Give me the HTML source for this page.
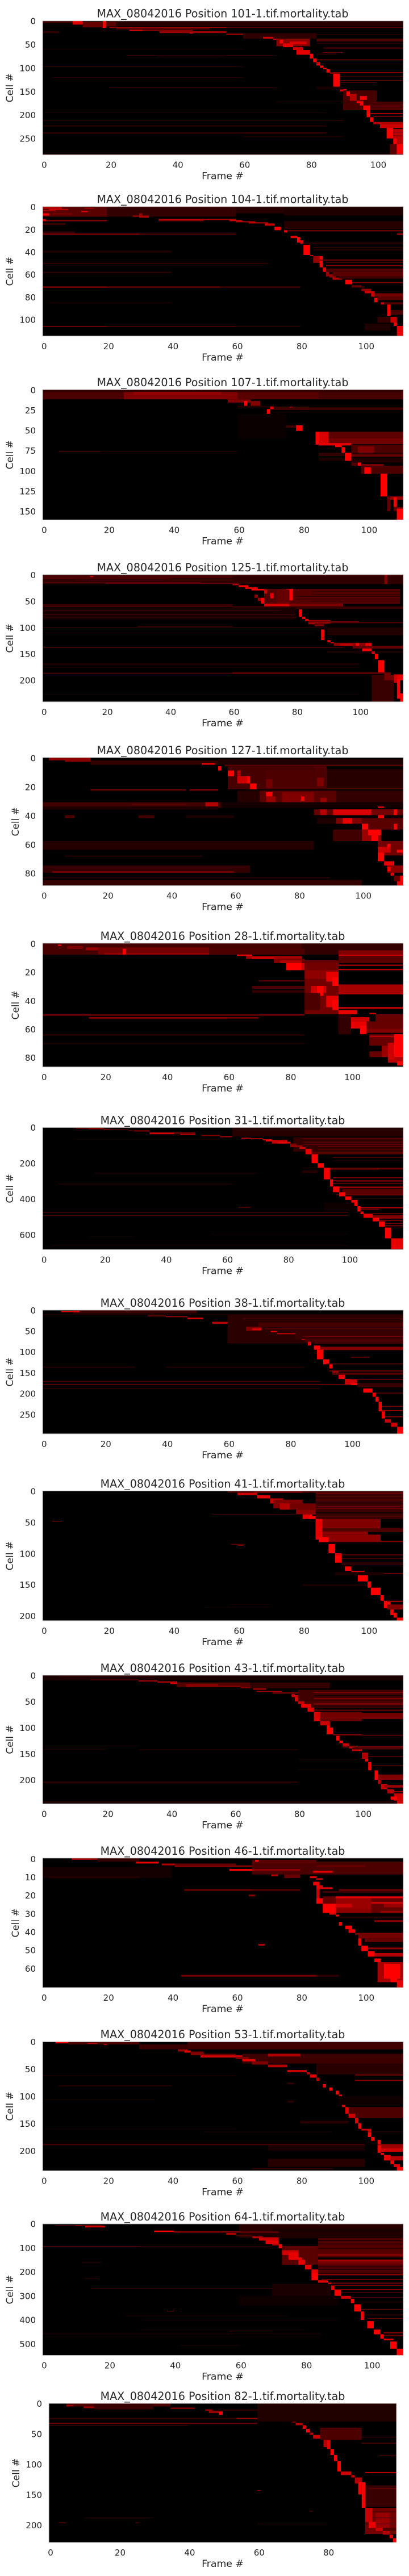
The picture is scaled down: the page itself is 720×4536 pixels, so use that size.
<!DOCTYPE html>
<html lang="en">
<head>
<meta charset="utf-8">
<title>MAX_08042016 mortality heatmaps</title>
<style>
html,body{margin:0;padding:0;background:#fff}
svg{display:block}
text{font-family:"DejaVu Sans","Liberation Sans",sans-serif;fill:#262626}
</style>
</head>
<body>
<svg id="figure" xmlns="http://www.w3.org/2000/svg" width="720" height="4536" viewBox="0 0 720 4536"></svg>
<script>
const panelTitles = ["MAX_08042016 Position 101-1.tif.mortality.tab","MAX_08042016 Position 104-1.tif.mortality.tab","MAX_08042016 Position 107-1.tif.mortality.tab","MAX_08042016 Position 125-1.tif.mortality.tab","MAX_08042016 Position 127-1.tif.mortality.tab","MAX_08042016 Position 28-1.tif.mortality.tab","MAX_08042016 Position 31-1.tif.mortality.tab","MAX_08042016 Position 38-1.tif.mortality.tab","MAX_08042016 Position 41-1.tif.mortality.tab","MAX_08042016 Position 43-1.tif.mortality.tab","MAX_08042016 Position 46-1.tif.mortality.tab","MAX_08042016 Position 53-1.tif.mortality.tab","MAX_08042016 Position 64-1.tif.mortality.tab","MAX_08042016 Position 82-1.tif.mortality.tab"];
const frameCounts = [108,112,111,114,113,117,118,117,111,113,112,112,110,100];
const cellCounts = [285,115,161,241,89,87,683,297,208,246,71,237,548,229];
const frameTicks = [[0,20,40,60,80,100],[0,20,40,60,80,100],[0,20,40,60,80,100],[0,20,40,60,80,100],[0,20,40,60,80,100],[0,20,40,60,80,100],[0,20,40,60,80,100],[0,20,40,60,80,100],[0,20,40,60,80,100],[0,20,40,60,80,100],[0,20,40,60,80,100],[0,20,40,60,80,100],[0,20,40,60,80,100],[0,20,40,60,80]];
const cellTicks = [[0,50,100,150,200,250],[0,20,40,60,80,100],[0,25,50,75,100,125,150],[0,50,100,150,200],[0,20,40,60,80],[0,20,40,60,80],[0,200,400,600],[0,50,100,150,200,250],[0,50,100,150,200],[0,50,100,150,200],[0,10,20,30,40,50,60],[0,50,100,150,200],[0,100,200,300,400,500],[0,50,100,150,200]];

/* Each run: [first cell, last cell, first frame, last frame, intensity] */
const runs101 = [[0,12,20,108,.15],[0,5,0,9,.25],[0,8,9,12,.9],[2,14,12,18,.4],[0,15,18,19,1],[2,12,19,22,.35],[14,15,20,55,.9],[14,15,55,108,.5],[16,18,22,50,.45],[19,21,26,30,1],[19,21,30,45,.6],[22,26,35,55,.6],[25,27,44,45,.9],[22,26,0,5,.2],[27,30,55,62,.6],[30,32,60,65,.8],[32,34,62,65,1],[26,38,60,82,.18],[34,38,66,69,.8],[38,40,69,70,.9],[38,54,70,80,.55],[40,48,71,72,1],[44,50,74,79,.85],[48,56,72,75,.9],[56,62,75,78,.8],[62,72,76,80,.9],[70,80,80,81,1],[80,88,81,82,1],[82,84,82,108,.45],[88,95,82,83,1],[95,100,83,84,1],[100,103,84,85,1],[103,110,85,86,1],[110,112,86,87,1],[109,111,87,108,.55],[112,140,87,89,1],[118,119,89,108,.45],[126,127,89,108,.55],[131,132,89,100,.4],[140,145,88,89,1],[145,150,89,91,.9],[148,190,90,100,.28],[150,160,91,92,1],[155,170,92,94,.7],[160,168,95,97,1],[170,175,94,95,1],[170,180,95,96,1],[180,190,96,98,1],[172,190,98,108,.32],[176,177,98,108,.1],[183,184,98,108,.1],[190,205,97,98,1],[196,198,98,108,.7],[205,215,98,99,1],[202,204,99,108,.55],[215,220,99,108,.7],[220,228,101,108,.8],[228,250,103,105,1],[230,262,105,108,.72],[236,237,105,108,.2],[244,245,105,108,.25],[250,262,105,106,1],[262,285,106,108,1],[262,285,104,106,.35],[211,212,0,90,.35],[237,240,0,85,.2],[222,225,0,85,.14],[142,143,20,70,.3],[120,121,3,60,.18],[283,284,0,108,.25],[73,74,25,70,.2],[60,61,0,60,.15],[97,98,0,60,.18],[38,44,82,108,.3],[56,60,84,108,.2],[67,68,84,90,.5],[76,77,34,55,.22],[172,173,70,100,.25],[195,196,0,85,.12],[245,247,60,90,.12],[140,146,82,90,.1],[91,92,82,108,.15],[48,49,82,108,.3],[28,30,82,108,.15],[70,71,82,88,.4]];
const runs104 = [[0,9,0,20,.35],[0,9,20,60,.2],[0,6,60,75,.15],[0,2,0,6,.7],[3,4,0,4,.7],[6,8,0,2,1],[2,3,2,8,.8],[4,5,12,14,.9],[6,7,3,9,.5],[1,2,13,16,.6],[6,10,30,31,.6],[8,9,28,33,.7],[9,10,30,33,.6],[11,12,36,60,.7],[12,13,0,20,.6],[12,13,36,50,.5],[11,13,0,1,.9],[15,16,0,7,.4],[13,20,75,112,.15],[0,8,75,112,.12],[12,13,58,62,.8],[13,14,60,66,.7],[14,15,64,70,.8],[15,17,69,72,.8],[18,21,72,74,1],[21,23,75,76,1],[26,28,77,79,.9],[27,32,79,80,1],[30,33,80,81,.9],[34,43,81,83,1],[43,44,83,84,.8],[44,50,84,86,.6],[44,54,86,87,1],[54,58,87,88,.9],[58,62,88,89,.6],[60,63,89,91,.6],[63,65,90,93,.7],[65,69,94,96,1],[70,72,96,99,.5],[73,75,99,102,.6],[75,77,100,103,.8],[77,80,102,105,.8],[81,85,103,104,1],[85,87,105,107,.8],[87,92,107,108,1],[92,97,107,108,1],[98,103,108,110,.8],[103,106,109,110,1],[106,115,110,112,.9],[21,22,76,112,.5],[32,33,81,112,.2],[36,37,84,112,.2],[38,39,84,112,.15],[47,48,86,112,.45],[49,50,88,112,.3],[52,53,88,112,.5],[55,58,88,112,.3],[58,62,90,112,.35],[62,64,92,112,.25],[67,68,96,112,.5],[71,72,96,100,.3],[77,80,103,112,.45],[80,83,104,112,.35],[85,87,106,112,.3],[92,96,108,112,.3],[98,103,104,108,.2],[104,110,100,108,.12],[24,25,0,30,.6],[24,25,30,60,.35],[71,72,0,20,.65],[71,72,20,55,.55],[71,72,55,80,.35],[106,107,0,20,.4],[106,107,20,60,.25],[106,107,60,80,.15],[50,51,0,70,.2],[58,59,0,40,.2],[39,41,0,40,.12],[85,86,2,40,.1],[24,25,110,112,.8],[22,24,0,10,.2]];
const runs107 = [[0,3,0,111,.2],[3,12,0,25,.3],[3,12,25,60,.5],[3,12,60,85,.35],[3,12,85,111,.28],[3,6,28,55,.6],[9,10,28,30,.5],[12,16,57,64,.5],[14,20,64,67,.5],[14,20,62,63,1],[20,22,60,72,.15],[21,25,70,82,.2],[21,24,76,77,.8],[21,24,70,71,.9],[24,30,69,70,1],[24,25,70,111,.3],[22,24,71,111,.25],[31,34,69,73,.2],[30,34,72,73,1],[35,43,73,74,1],[41,43,74,75,1],[36,38,74,75,.9],[44,47,74,78,.25],[44,51,78,80,1],[52,60,87,111,.36],[60,66,87,111,.45],[66,67,87,111,.6],[52,68,84,85,1],[52,68,85,88,.85],[66,69,85,95,.9],[68,71,90,92,1],[71,78,92,93,1],[78,88,93,95,1],[68,78,95,111,.3],[70,78,97,102,.5],[78,82,85,93,.2],[78,82,95,111,.18],[80,83,95,111,.4],[84,88,85,93,.12],[84,88,95,111,.12],[88,90,95,111,.15],[90,94,95,97,.3],[90,94,97,98,1],[92,95,98,105,.5],[94,104,100,111,.3],[94,104,98,100,.3],[96,104,99,101,1],[95,104,101,110,.3],[104,132,104,106,1],[132,136,106,111,.6],[132,150,106,107,.4],[133,145,108,109,1],[145,150,108,111,.4],[147,161,109,111,1],[76,77,5,18,.3],[76,77,18,60,.15],[30,60,60,75,.04]];
const runs125 = [[0,18,0,60,.18],[0,18,60,114,.18],[1,2,0,114,.3],[4,5,0,60,.55],[7,8,0,40,.4],[10,11,10,60,.35],[14,15,0,50,.4],[16,17,20,62,.5],[3,5,15,16,1],[18,20,60,62,.8],[20,24,62,65,.9],[24,27,64,68,.9],[27,30,66,70,1],[27,55,70,113,.33],[27,49,77,79,1],[28,36,70,71,.8],[35,45,72,73,.9],[28,55,74,78,.4],[31,32,85,113,.15],[37,38,85,113,.15],[41,42,80,113,.15],[46,47,80,113,.2],[50,51,85,113,.2],[38,44,67,68,.6],[44,50,68,70,.6],[44,55,69,70,1],[55,60,70,78,.85],[55,60,78,95,.5],[60,62,60,100,.3],[56,60,0,60,.22],[60,61,0,60,.4],[60,65,78,114,.22],[62,85,0,80,.1],[68,69,0,75,.3],[75,76,0,80,.3],[66,80,81,82,1],[80,84,82,83,1],[84,88,83,84,.9],[88,94,84,86,.8],[94,98,86,89,.5],[86,93,84,91,.6],[88,90,84,100,.4],[90,92,91,114,.35],[104,124,88,89,1],[124,128,90,91,.9],[128,130,91,92,.9],[129,135,92,104,.55],[131,135,94,98,.75],[130,135,99,100,1],[130,137,102,104,.9],[137,145,101,104,1],[145,150,104,105,1],[150,160,105,106,1],[162,186,106,108,1],[186,190,108,110,.5],[189,200,111,114,.9],[190,205,111,112,.8],[198,216,112,113,1],[216,235,112,113,1],[225,241,113,114,1],[135,140,98,114,.4],[146,147,90,114,.3],[190,241,104,111,.22],[190,200,108,111,.45],[186,187,0,100,.55],[185,188,60,110,.4],[138,139,0,95,.4],[100,101,0,90,.25],[97,99,30,60,.2],[80,81,0,80,.3],[168,172,0,100,.1],[175,176,0,100,.15],[100,115,90,114,.13],[0,18,108,109,.5],[110,111,0,86,.1],[226,227,0,100,.1]];
const runs127 = [[0,2,2,15,.55],[2,3,7,30,.5],[2,5,15,55,.2],[4,5,50,54,.9],[1,5,55,113,.12],[5,6,57,113,.35],[6,22,58,85,.28],[9,22,70,85,.3],[15,22,70,72,.45],[6,22,85,89,.3],[14,20,86,88,.5],[8,22,89,113,.15],[6,9,55,56,1],[9,13,58,60,1],[9,13,61,62,.7],[13,18,61,64,.8],[13,18,64,65,1],[18,22,65,67,1],[22,23,15,45,.4],[22,23,46,55,.5],[21,22,70,113,.3],[23,31,61,68,.15],[23,31,68,92,.35],[24,31,75,85,.5],[24,27,70,72,1],[27,31,70,73,.6],[27,30,81,82,1],[28,31,87,89,.6],[23,31,92,113,.2],[31,35,0,56,.25],[31,34,51,55,.7],[32,33,28,45,.35],[34,36,0,55,.12],[31,35,56,113,.08],[36,40,85,113,.4],[36,40,87,89,.7],[36,40,91,103,.85],[36,40,103,110,.45],[36,40,110,111,1],[34,35,105,107,.9],[40,42,105,107,1],[40,42,7,10,.3],[40,42,30,35,.25],[40,42,45,60,.1],[42,46,86,92,.12],[42,46,92,100,.5],[42,46,94,97,.9],[42,50,100,113,.35],[46,50,100,102,1],[46,50,110,111,1],[50,58,91,100,.25],[50,58,100,106,.6],[50,54,102,106,1],[54,58,103,105,1],[58,68,105,113,.45],[60,66,108,109,1],[62,66,105,109,.8],[64,66,111,113,1],[66,72,105,107,1],[72,75,107,110,.9],[75,80,108,113,.55],[76,79,108,109,1],[80,82,109,110,.9],[82,86,110,112,.4],[82,86,112,113,1],[86,89,111,113,.9],[58,64,0,85,.14],[68,69,7,50,.12],[75,80,0,65,.2],[79,80,3,60,.5],[83,84,0,90,.15],[85,89,0,100,.2]];
const runs28 = [[0,8,0,84,.28],[3,8,18,54,.45],[7,8,20,54,.6],[4,8,26,27,1],[1,2,5,6,1],[2,4,8,13,.5],[3,5,14,18,.6],[0,8,84,96,.2],[4,8,54,85,.3],[8,9,63,68,.9],[9,11,66,84,.65],[10,11,68,75,.9],[11,14,75,85,.5],[12,14,77,84,.7],[14,19,79,84,1],[14,19,84,85,.8],[12,14,84,96,.4],[0,5,96,117,.2],[5,8,96,117,.5],[8,9,96,117,.8],[9,14,96,117,.35],[15,16,96,117,.6],[18,19,96,117,.7],[14,50,85,96,.45],[19,25,85,96,.55],[20,27,92,96,.9],[24,30,94,96,1],[30,35,87,92,.8],[30,37,89,91,1],[37,45,92,96,.9],[40,47,94,96,1],[35,47,85,90,.3],[30,32,68,85,.3],[33,35,68,85,.2],[26,27,70,85,.3],[29,35,96,117,.65],[35,36,96,117,.7],[45,46,96,117,.9],[47,50,96,102,.9],[49,50,106,108,.8],[50,55,108,117,.4],[52,55,98,106,.8],[55,60,100,105,.9],[58,64,103,105,1],[55,60,105,117,.4],[60,63,105,117,.5],[50,64,96,100,.2],[64,72,106,117,.4],[65,66,106,117,.7],[64,80,114,117,1],[72,80,110,114,.6],[76,80,106,110,.4],[80,84,112,117,.7],[83,86,115,117,1],[70,82,112,114,.8],[50,51,0,85,.45],[52,53,15,60,.6],[52,53,60,70,.5],[64,65,0,85,.15],[70,71,0,85,.1]];
const runs31 = [[0,5,10,20,.2],[3,7,11,20,.6],[7,11,15,22,.4],[12,15,20,28,.6],[15,22,28,35,.25],[18,22,30,35,.8],[0,50,62,118,.15],[25,38,43,50,.35],[28,38,35,43,.8],[35,42,45,50,.7],[42,48,52,58,.5],[48,55,58,62,.6],[58,62,65,68,1],[60,66,68,72,.7],[66,72,72,75,.9],[72,78,73,75,1],[70,90,75,80,.8],[80,90,77,81,.9],[55,135,82,118,.2],[90,105,81,83,.5],[100,110,81,85,.6],[60,64,85,118,.4],[80,85,85,118,.35],[95,98,85,118,.45],[105,108,90,118,.5],[120,125,90,118,.35],[135,150,88,118,.35],[165,170,95,118,.35],[185,188,95,118,.2],[110,120,84,86,.8],[120,150,86,88,.9],[150,200,88,90,1],[200,225,90,92,1],[225,235,94,118,.4],[232,234,94,110,.8],[280,283,95,118,.8],[295,297,95,118,.6],[300,302,96,118,.5],[310,313,95,118,.7],[330,340,96,118,.55],[345,380,98,118,.35],[375,378,96,118,.5],[395,397,99,118,.3],[445,452,103,118,.7],[455,462,104,110,.4],[480,485,105,118,.5],[490,510,108,118,.5],[520,523,110,118,.7],[535,537,110,118,.7],[545,548,112,118,.7],[555,558,112,118,.6],[620,640,114,118,.7],[640,660,115,118,.6],[225,290,92,94,.95],[290,330,94,95,1],[330,362,95,97,1],[362,385,97,99,1],[385,405,99,101,1],[405,440,101,103,1],[440,470,103,104,1],[470,485,104,105,1],[485,505,105,108,.9],[505,525,108,110,1],[525,555,110,112,1],[560,620,112,114,1],[620,680,114,118,.9],[476,478,0,100,.45],[491,494,0,100,.4],[315,317,5,62,.25],[255,257,17,70,.2],[445,447,64,68,.8],[65,68,10,60,.1],[225,228,85,92,.2],[240,255,85,90,.15],[610,612,15,30,.12],[655,660,3,100,.1],[595,597,55,100,.1],[420,470,92,102,.06]];
const runs38 = [[0,8,10,50,.22],[2,5,6,12,.9],[10,12,0,60,.15],[13,15,34,40,.6],[15,17,40,47,.7],[18,22,47,52,.8],[28,33,55,62,.7],[33,38,62,64,.8],[38,42,64,66,.8],[10,80,60,117,.17],[40,50,66,71,.5],[44,48,68,71,.85],[50,53,74,76,.9],[55,58,76,82,.7],[60,65,82,84,.8],[65,72,84,86,.9],[72,85,86,87,.9],[85,95,88,90,1],[88,96,90,117,.5],[95,118,89,91,1],[118,130,91,93,1],[130,140,93,94,1],[145,155,94,96,.6],[155,165,96,98,.9],[165,180,98,102,.8],[175,180,100,103,1],[188,198,104,107,1],[198,208,107,108,.9],[208,220,108,109,1],[220,243,109,110,1],[243,260,110,111,1],[262,270,111,113,.8],[270,280,113,115,.8],[280,297,115,117,1],[70,76,85,117,.3],[30,40,70,117,.28],[50,70,82,117,.22],[178,180,0,100,.5],[170,172,0,90,.3],[136,138,0,30,.2],[136,138,40,85,.2],[187,189,0,90,.2],[150,155,94,117,.35],[112,114,100,106,.5],[175,185,102,117,.22],[230,232,110,117,.5],[240,242,110,117,.7],[255,257,111,117,.6],[145,147,93,117,.6],[128,130,92,117,.4],[20,22,65,117,.35],[44,46,72,117,.4],[62,64,85,117,.45],[78,80,88,117,.4],[165,167,100,117,.5],[198,200,108,117,.4]];
const runs41 = [[0,3,57,111,.3],[1,3,65,80,.5],[3,7,60,66,.8],[7,12,66,70,.9],[12,20,70,74,.8],[14,28,71,80,.5],[20,30,73,77,.7],[20,30,76,84,.45],[30,38,78,84,.55],[38,45,80,83,.9],[40,45,82,84,1],[0,45,84,111,.22],[3,4,84,111,.6],[8,9,84,111,.4],[14,15,84,111,.5],[24,25,84,111,.5],[28,29,84,111,.5],[40,41,84,111,.4],[19,20,84,111,.08],[34,36,84,111,.08],[45,60,85,104,.5],[60,66,85,111,.3],[65,70,85,100,.55],[70,80,85,104,.55],[45,60,84,85,1],[45,78,84,86,.9],[74,82,85,88,1],[60,66,104,111,.3],[80,82,88,111,.5],[85,100,88,90,1],[100,115,90,92,1],[121,128,93,95,1],[128,133,95,99,.8],[132,145,97,100,1],[145,155,100,101,1],[155,167,101,104,1],[167,176,104,105,1],[176,188,105,107,1],[190,199,107,108,1],[195,203,108,109,1],[203,208,109,111,1],[102,103,90,111,.6],[108,109,92,111,.3],[115,116,92,111,.5],[118,119,92,111,.4],[132,133,95,111,.7],[176,178,106,111,.6],[182,190,106,111,.5],[37,38,52,80,.25],[48,49,3,6,.6],[85,86,58,62,.5],[87,88,60,62,.5],[181,182,58,70,.15],[186,187,50,70,.1],[150,152,80,100,.15],[130,135,90,105,.1]];
const runs43 = [[0,10,0,113,.1],[2,3,5,35,.3],[8,10,15,30,.3],[10,12,30,36,.7],[12,14,36,42,.9],[14,17,40,47,.8],[14,23,42,65,.33],[17,23,45,55,.55],[20,23,47,62,.5],[22,25,62,70,.5],[14,25,65,90,.2],[25,28,66,70,.6],[30,32,67,75,.6],[33,35,72,80,.6],[36,41,78,79,.7],[38,42,78,80,.8],[42,50,79,80,.9],[48,55,80,82,.8],[28,50,80,113,.25],[50,62,82,113,.3],[32,34,85,113,.5],[44,46,85,113,.55],[54,56,85,113,.55],[66,68,85,113,.5],[38,40,85,113,.08],[58,60,85,113,.1],[55,62,81,84,.9],[62,70,83,85,.9],[70,88,85,100,.4],[72,84,85,113,.45],[70,88,85,87,.85],[88,96,87,90,.8],[96,113,89,90,1],[100,113,89,91,1],[113,115,91,100,.6],[114,116,100,113,.35],[116,125,92,93,1],[125,130,93,94,1],[130,135,94,96,.8],[135,140,96,98,.9],[140,145,97,100,.8],[148,160,100,102,.7],[160,165,101,102,1],[166,182,102,103,1],[182,200,104,105,1],[193,208,105,106,.7],[208,218,106,108,.8],[218,226,108,110,.7],[226,240,110,113,.8],[232,238,109,111,1],[240,246,111,113,1],[204,205,0,80,.4],[242,243,0,113,.4],[136,138,94,113,.5],[138,142,97,113,.3],[155,156,100,113,.6],[172,173,103,113,.4],[190,200,105,113,.5],[210,215,107,113,.6],[222,224,110,113,.7],[141,142,0,20,.2],[135,136,0,30,.1],[142,143,30,80,.2],[160,161,80,100,.15],[180,181,80,100,.12]];
const runs46 = [[0,1,9,17,.6],[0,2,17,30,.2],[2,3,29,36,.9],[3,4,37,41,.7],[4,5,41,75,.5],[3,4,41,60,.4],[2,9,65,112,.3],[1,3,65,85,.35],[1,2,66,67,1],[2,3,85,112,.3],[4,5,85,100,.4],[6,7,58,65,1],[6,7,65,80,.55],[6,8,80,112,.3],[7,8,84,90,.9],[9,10,71,73,.7],[9,11,75,80,.4],[10,11,83,85,.9],[11,12,85,87,.7],[5,11,0,40,.08],[10,11,2,30,.15],[13,15,84,86,.9],[15,17,85,87,.9],[17,22,85,86,.8],[16,17,86,90,.8],[18,19,87,112,.25],[17,18,92,112,.4],[21,30,87,112,.4],[22,25,85,87,1],[25,30,87,91,1],[22,30,91,102,.6],[25,27,91,96,.8],[28,30,91,102,.55],[21,22,91,112,.9],[24,25,102,112,.8],[25,27,106,112,.6],[29,30,105,112,.6],[30,31,89,91,.9],[31,32,91,92,1],[32,33,92,112,.15],[34,35,103,112,.5],[35,37,92,93,1],[37,39,94,96,1],[39,41,95,97,.9],[41,42,97,112,.5],[42,44,98,112,.45],[44,48,98,99,1],[44,46,100,112,.4],[48,51,99,101,1],[49,50,101,112,.55],[52,54,101,112,.7],[51,54,101,103,1],[55,57,103,105,1],[57,68,104,112,.65],[58,66,106,111,1],[66,68,108,110,1],[67,71,110,112,.9],[64,65,43,85,.45],[64,65,85,92,.2],[20,21,64,66,.5],[47,48,67,69,.7],[17,18,44,65,.4],[17,18,65,80,.3]];
const runs53 = [[0,3,4,8,1],[0,5,8,30,.3],[2,4,14,17,.7],[4,6,19,20,.7],[5,14,30,45,.22],[0,14,45,112,.25],[14,18,42,45,.6],[16,20,44,46,.9],[18,25,46,50,.5],[22,29,50,60,.4],[25,29,49,62,.8],[22,40,62,112,.24],[28,32,60,64,.5],[32,36,62,66,.9],[36,42,65,70,.5],[42,47,70,76,.7],[22,27,70,80,.7],[40,60,85,112,.16],[52,56,76,82,.8],[56,60,82,83,.7],[60,66,83,85,.9],[66,72,85,86,.7],[78,84,87,88,.9],[84,90,89,90,1],[90,97,91,92,1],[97,112,92,93,.9],[116,120,93,94,.9],[120,140,95,112,.3],[120,132,94,95,.9],[132,140,95,97,.8],[140,150,97,98,.9],[150,160,98,99,1],[160,163,99,102,.8],[163,175,101,102,1],[175,182,102,103,1],[180,190,104,105,1],[188,195,104,112,.6],[195,202,105,112,.8],[190,204,104,105,1],[204,208,105,106,1],[210,218,107,112,.7],[208,218,106,108,.9],[218,225,108,109,1],[225,230,109,111,.9],[230,237,110,112,1],[60,62,97,112,.5],[70,72,97,112,.5],[100,115,92,112,.06],[165,166,100,112,.2],[188,190,0,100,.3],[62,63,0,60,.2],[105,106,0,35,.1],[108,112,76,78,.15],[75,78,76,78,.2],[190,200,70,100,.1],[215,230,70,100,.15],[232,234,65,90,.2],[160,161,0,60,.1],[165,166,50,90,.12],[145,150,80,95,.15],[80,82,5,40,.15]];
const runs64 = [[5,8,4,12,.3],[6,10,10,18,.55],[8,15,13,19,.8],[0,50,60,110,.16],[20,35,70,110,.1],[40,60,60,110,.12],[28,34,34,40,1],[30,34,40,60,.6],[32,37,40,72,.45],[38,46,56,59,.7],[46,52,59,64,.3],[52,60,64,67,.7],[56,70,66,72,.8],[70,84,68,72,.9],[84,90,70,72,.7],[85,102,72,73,1],[60,150,84,110,.33],[68,72,84,110,.1],[82,86,84,110,.12],[100,105,84,110,.18],[148,170,84,110,.45],[170,215,84,110,.3],[178,180,84,110,.1],[190,192,84,110,.1],[205,208,84,110,.08],[125,135,84,110,.5],[140,148,84,110,0],[152,155,84,110,.7],[208,213,84,110,.55],[92,170,73,84,.35],[110,130,73,78,.8],[120,150,75,78,.9],[140,150,76,79,.9],[150,170,78,80,.9],[170,190,80,82,.9],[190,210,82,84,.9],[205,235,82,84,1],[235,245,84,87,.9],[245,258,87,88,1],[258,275,88,89,.9],[230,233,85,110,.6],[245,249,88,110,.55],[255,258,88,110,.45],[272,275,89,110,.5],[285,287,91,110,.5],[305,307,94,110,.4],[325,327,95,110,.4],[355,357,97,110,.5],[378,380,98,110,.5],[393,395,99,110,.5],[450,456,104,110,.5],[462,468,104,110,.4],[275,300,89,91,1],[300,312,91,94,.8],[312,330,94,95,1],[335,365,95,97,1],[365,400,97,98,1],[405,435,99,101,1],[440,460,101,103,1],[460,478,103,104,1],[478,485,104,107,.9],[490,520,106,108,1],[520,548,108,110,1],[93,95,0,30,.45],[93,95,30,70,.2],[268,270,15,85,.2],[445,447,57,70,.35],[440,442,30,80,.1],[362,364,38,40,.7],[225,227,13,17,.3],[160,162,12,18,.25],[505,507,42,60,.15],[455,460,0,85,.08],[470,472,0,85,.1],[400,402,30,90,.1],[380,385,25,75,.06],[300,340,60,90,.06],[250,300,70,88,.1]];
const runs82 = [[0,5,5,35,.3],[3,5,5,7,.7],[5,8,10,13,.6],[0,10,13,30,.22],[7,9,35,42,.6],[10,12,45,47,.7],[12,16,46,50,.6],[14,19,49,50,1],[24,26,54,66,.6],[26,28,60,68,.5],[18,21,68,72,.9],[25,30,67,70,.4],[28,32,70,71,.5],[32,36,71,73,.7],[36,42,73,74,.9],[42,48,74,75,1],[48,52,75,76,.7],[52,58,76,79,.8],[58,62,79,80,.9],[60,75,80,81,.9],[60,72,79,80,.7],[75,85,81,82,1],[85,95,82,83,1],[95,112,83,84,1],[112,118,84,87,.8],[118,122,87,88,.8],[122,132,88,90,.7],[130,150,89,90,1],[130,172,90,91,1],[172,215,91,100,.45],[180,205,94,98,.6],[178,179,91,100,.2],[188,189,91,100,.25],[198,199,91,100,.25],[172,195,91,93,.8],[195,205,92,94,.9],[205,210,94,96,.8],[208,216,96,98,.7],[216,222,98,99,.9],[222,229,99,100,1],[32,34,0,60,.4],[36,37,0,40,.3],[24,26,0,54,.2],[10,12,50,100,.2],[0,30,60,100,.13],[40,60,78,90,.3],[113,115,91,100,.7],[205,210,96,100,.3],[135,170,91,100,.22],[140,141,92,100,.5],[65,66,90,100,.5],[55,56,90,100,.3],[198,199,60,80,.2],[196,197,3,5,.5],[196,197,25,26,.5],[143,144,60,61,.5],[177,178,75,76,.4],[188,189,10,30,.15],[85,86,95,100,.3]];
const panelRuns = [runs101,runs104,runs107,runs125,runs127,runs28,runs31,runs38,runs41,runs43,runs46,runs53,runs64,runs82];

/* Page layout, separate from the data */
const axesTops = [36.7,363.7,686.1,1011.8,1333.9,1660.8,1985.3,2306.9,2625.3,2949.8,3271.8,3595.2,3915.9,4232];
const axesBottoms = [272.7,591.8,915.5,1235.9,1559.6,1878.8,2200.4,2524.9,2853.9,3176.3,3500,3822.5,4147.6,4477];
const axesLefts = [75,75,75,75,75,75,75,75,75,75,75,75,75,86];
const axesRights = [710,710,710,710,710,710,710,710,710,710,710,710,710,698];

const SVG_NS = 'http://www.w3.org/2000/svg';
const figure = document.getElementById('figure');

function svgEl(tag, attrs, parent) {
  const el = document.createElementNS(SVG_NS, tag);
  for (const k in attrs) el.setAttribute(k, attrs[k]);
  parent.appendChild(el);
  return el;
}

panelTitles.forEach(function (title, p) {
  const left = axesLefts[p], right = axesRights[p], top = axesTops[p], bottom = axesBottoms[p];
  const nFrames = frameCounts[p], nCells = cellCounts[p];
  const xScale = function (frame) { return left + frame / nFrames * (right - left); };
  const yScale = function (cell) { return top + cell / nCells * (bottom - top); };
  const cx = 392;

  const group = svgEl('g', {}, figure);
  
  

  const titleEl = svgEl('text', { x: cx, y: top - 6, 'text-anchor': 'middle', 'font-size': '19.1' }, group);
  titleEl.textContent = title;
  
  

  const bg = svgEl('rect', { x: left, y: top, width: right - left, height: bottom - top, fill: '#000' }, group);
  
  

  panelRuns[p].forEach(function (run) {
    const x0 = xScale(run[2]), x1 = xScale(run[3]), y0 = yScale(run[0]), y1 = yScale(run[1]);
    const rect = svgEl('rect', {
      x: x0.toFixed(2), y: y0.toFixed(2),
      width: (x1 - x0).toFixed(2), height: Math.max(y1 - y0, 0.8).toFixed(2),
      fill: 'rgb(' + Math.round(255 * run[4]) + ',0,0)'
    }, group);
    
    
  });

  const frameEl = svgEl('rect', { x: left, y: top, width: right - left, height: bottom - top, fill: 'none', stroke: '#ccc', 'stroke-width': '1' }, group);
  
  

  frameTicks[p].forEach(function (t) {
    const label = svgEl('text', { x: xScale(t + 0.5), y: bottom + 23, 'text-anchor': 'middle', 'font-size': '15' }, group);
    label.textContent = t;
    
    
  });

  cellTicks[p].forEach(function (t) {
    const label = svgEl('text', { x: left - 12, y: yScale(t + 0.5) + 5.5, 'text-anchor': 'end', 'font-size': '15' }, group);
    label.textContent = t;
    
    
  });

  const xTitle = svgEl('text', { x: cx, y: bottom + 43, 'text-anchor': 'middle', 'font-size': '17.3' }, group);
  xTitle.textContent = 'Frame #';
  
  

  const maxTick = Math.max.apply(null, cellTicks[p]);
  const digits = String(maxTick).length;
  const labelX = left - 22 - digits * 10;
  const midY = (top + bottom) / 2;
  const yTitle = svgEl('text', { x: labelX, y: midY, 'text-anchor': 'middle', 'font-size': '17', transform: 'rotate(-90 ' + labelX + ' ' + midY + ')' }, group);
  yTitle.textContent = 'Cell #';
  
  
});
</script>
</body>
</html>
